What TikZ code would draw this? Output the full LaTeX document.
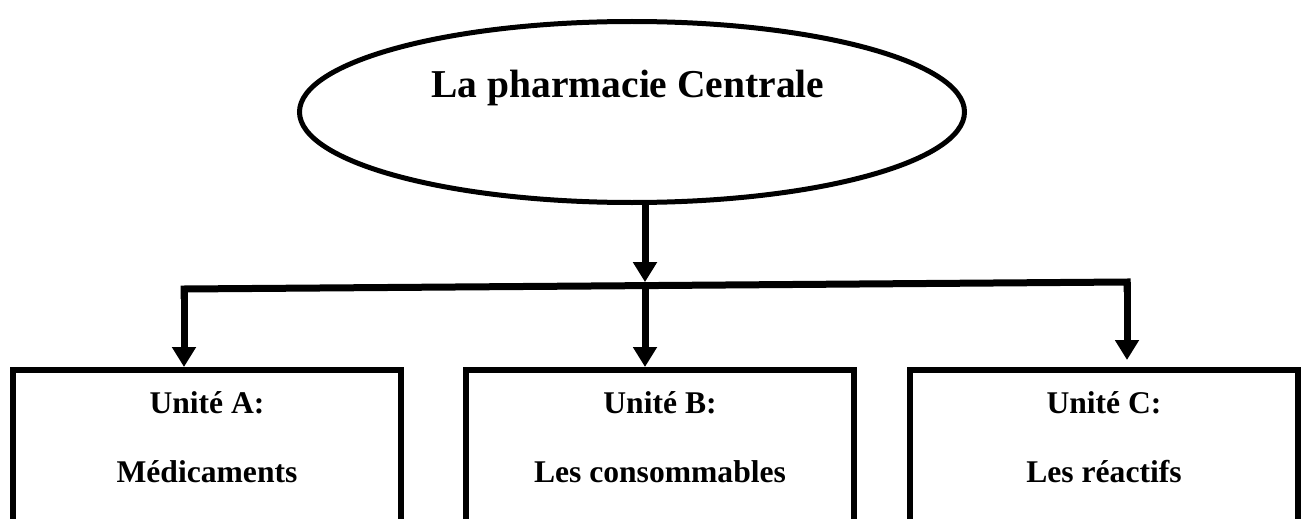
\documentclass[tikz,border=0pt]{standalone}
\usepackage{fontspec}
\setmainfont{Liberation Serif}
\usetikzlibrary{shapes.geometric,arrows.meta,calc}
\begin{document}
\begin{tikzpicture}[x=1pt,y=-1pt,
  rootshape/.style={draw,ellipse,line width=5pt,inner sep=0pt,outer sep=0pt,minimum width=665pt,minimum height=181pt},
  unitbox/.style={draw,rectangle,line width=6pt,inner sep=0pt,outer sep=0pt,minimum width=388pt,minimum height=220pt,anchor=north},
  link/.style={line width=7pt,line join=miter},
  arr/.style={link,-{Triangle[width=23pt,length=20pt]}},
  titletext/.style={font=\bfseries\fontsize{39.5}{47}\selectfont,anchor=base,inner sep=0pt},
  unittext/.style={font=\bfseries\fontsize{31.6}{38}\selectfont,anchor=base,inner sep=0pt}]
\useasboundingbox (0,0) rectangle (1307,519);
\clip (0,0) rectangle (1307,519);
% root
\node[rootshape] (root) at (632,112) {};
\node[titletext] (title) at (628,97) {La pharmacie Centrale};
% units
\node[unitbox] (A) at (207,370) {};
\node[unitbox] (B) at (660,370) {};
\node[unitbox] (C) at (1104,370) {};
\node[unittext] (A1) at (207,413) {Unité A:};
\node[unittext] (A2) at (207,482) {Médicaments};
\node[unittext] (B1) at (660,413) {Unité B:};
\node[unittext] (B2) at (660,482) {Les consommables};
\node[unittext] (C1) at (1104,413) {Unité C:};
\node[unittext] (C2) at (1104,482) {Les réactifs};
% connectors
\coordinate (s) at (645,200);
\coordinate (j) at (645,285.6);
\coordinate (hl) at (184,289);
\coordinate (hr) at (1127,282);
\draw[arr,shorten >=3.5pt] (s) -- (j);
\draw[link] (j) -- (hl) -- ($(hl)+(0,10)$);
\draw[link] (j) -- (hr) -- ($(hr)+(0,10)$);
\draw[arr,shorten >=3pt] (hl) -- (hl |- A.north);
\draw[arr,shorten >=10pt] (hr) -- (hr |- C.north);
\draw[arr,shorten >=3pt] (j) -- (j |- B.north);
\end{tikzpicture}
\end{document}
